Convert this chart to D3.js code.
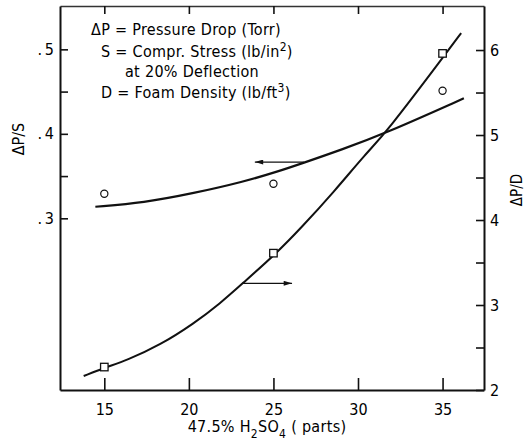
<!DOCTYPE html>
<html>
<head>
<meta charset="utf-8">
<script src="https://cdn.jsdelivr.net/npm/d3@7"></script>
<style>
  html, body { margin: 0; padding: 0; background: #fff; }
  svg { display: block; }
  .tick text { font-family: "Liberation Sans Narrow", "DejaVu Sans Condensed", "DejaVu Sans", sans-serif; font-stretch: condensed; font-size: 16px; fill: #000; }
  .lbl { font-family: "DejaVu Sans Condensed", "DejaVu Sans", sans-serif; font-stretch: condensed; fill: #000; }
</style>
</head>
<body>
<script>
// ---------- data ----------
const xTicks = [15, 20, 25, 30, 35];
const leftTicks = [0.30, 0.35, 0.40, 0.45, 0.50];
const leftTickLabels = {"0.3": ".\u20093", "0.4": ".\u20094", "0.5": ".\u20095"};
const rightTicks = [2, 2.5, 3, 3.5, 4, 4.5, 5, 5.5, 6];

// measured points
const acidParts = [15, 25, 35];
const dpS = [0.329, 0.341, 0.451];   // circles, left axis
const dpD = [2.27, 3.61, 5.96];      // squares, right axis

// fitted curves as drawn on the chart
const curveS_x = [14.47, 17.33, 20.28, 23.24, 25.22, 26.8, 28.96, 31.63, 36.26];
const curveS_y = [0.3137, 0.3185, 0.3296, 0.3433, 0.3551, 0.3658, 0.3808, 0.4006, 0.442];
const curveD_x = [13.78, 15.06, 16.34, 18.31, 20.28, 21.86, 23.15, 25.18, 26.6, 28.57, 30.5, 31.63, 35.2, 36.1];
const curveD_y = [2.165, 2.265, 2.35, 2.53, 2.78, 3.02, 3.25, 3.61, 3.9, 4.33, 4.79, 5.02, 5.96, 6.2];

// arrows (data units)
const arrowS = {x1: 26.8, x2: 23.9, y: 0.3666};
const arrowD = {x1: 23.15, x2: 26.1, y: 3.255};

// ---------- layout ----------
const W = 528, H = 445;
const L = 60, R = 484, T = 6, B = 390;

const svg = d3.select("body").append("svg").attr("width", W).attr("height", H);

const x = d3.scaleLinear().domain([12.38, 37.45]).range([L, R]);
const yL = d3.scaleLinear().domain([0.0968, 0.5513]).range([B, T]);
const yR = d3.scaleLinear().domain([2, 6.518]).range([B, T]);

const axisStyle = g => {
  g.selectAll(".domain").attr("stroke", "#111").attr("stroke-width", 2);
  g.selectAll(".tick line").attr("stroke", "#111").attr("stroke-width", 1.6);
};

// bottom
svg.append("g").attr("transform", `translate(0,${B})`)
  .call(d3.axisBottom(x).tickValues(xTicks).tickSize(-12).tickSizeOuter(0).tickPadding(14).tickFormat(d3.format("d")))
  .call(axisStyle);
// top
svg.append("g").attr("transform", `translate(0,${T})`)
  .call(d3.axisTop(x).tickValues(xTicks).tickSize(-8).tickSizeOuter(0).tickFormat(""))
  .call(axisStyle)
  .call(g => g.select(".domain").attr("stroke-width", 1.5).attr("stroke", "#333"));
// left
svg.append("g").attr("transform", `translate(${L},0)`)
  .call(d3.axisLeft(yL).tickValues(leftTicks).tickSize(-8).tickSizeOuter(0).tickPadding(6)
    .tickFormat(d => leftTickLabels[String(+d.toFixed(2))] || ""))
  .call(axisStyle);
// right
svg.append("g").attr("transform", `translate(${R},0)`)
  .call(d3.axisRight(yR).tickValues(rightTicks).tickSize(-8).tickSizeOuter(0).tickPadding(6)
    .tickFormat(d => Number.isInteger(d) ? String(d) : ""))
  .call(axisStyle);

// curves
const lineS = d3.line().x(d => x(d[0])).y(d => yL(d[1])).curve(d3.curveBasis);
const lineD = d3.line().x(d => x(d[0])).y(d => yR(d[1])).curve(d3.curveBasis);
svg.append("path").datum(curveS_x.map((v, i) => [v, curveS_y[i]]))
  .attr("d", lineS).attr("fill", "none").attr("stroke", "#111").attr("stroke-width", 2.2);
svg.append("path").datum(curveD_x.map((v, i) => [v, curveD_y[i]]))
  .attr("d", lineD).attr("fill", "none").attr("stroke", "#111").attr("stroke-width", 2);

// markers
svg.selectAll("circle.pt").data(acidParts.map((v, i) => [v, dpS[i]])).enter().append("circle")
  .attr("class", "pt").attr("cx", d => x(d[0])).attr("cy", d => yL(d[1])).attr("r", 3.6)
  .attr("fill", "#fff").attr("stroke", "#111").attr("stroke-width", 1.2);
const sq = 7.5;
svg.selectAll("rect.pt").data(acidParts.map((v, i) => [v, dpD[i]])).enter().append("rect")
  .attr("class", "pt").attr("x", d => x(d[0]) - sq / 2).attr("y", d => yR(d[1]) - sq / 2)
  .attr("width", sq).attr("height", sq)
  .attr("fill", "#fff").attr("stroke", "#111").attr("stroke-width", 1.3);

// arrows
svg.append("defs").append("marker").attr("id", "ah").attr("viewBox", "0 0 10 6")
  .attr("refX", 10).attr("refY", 3).attr("markerWidth", 9).attr("markerHeight", 5)
  .attr("markerUnits", "userSpaceOnUse").attr("orient", "auto")
  .append("path").attr("d", "M0,0 L10,3 L0,6 Z").attr("fill", "#111");
svg.append("line").attr("x1", x(arrowS.x1)).attr("x2", x(arrowS.x2))
  .attr("y1", yL(arrowS.y)).attr("y2", yL(arrowS.y))
  .attr("stroke", "#111").attr("stroke-width", 1.3).attr("marker-end", "url(#ah)");
svg.append("line").attr("x1", x(arrowD.x1)).attr("x2", x(arrowD.x2))
  .attr("y1", yR(arrowD.y)).attr("y2", yR(arrowD.y))
  .attr("stroke", "#111").attr("stroke-width", 1.3).attr("marker-end", "url(#ah)");

// legend text block
const leg = svg.append("g").attr("class", "lbl").attr("font-size", 16).attr("letter-spacing", 0.3);
leg.append("text").attr("x", 91).attr("y", 35).text("ΔP = Pressure Drop (Torr)");
const t2 = leg.append("text").attr("x", 101).attr("y", 57);
t2.append("tspan").text("S = Compr.  Stress (lb/in");
t2.append("tspan").attr("dy", -6).attr("font-size", 12).text("2");
t2.append("tspan").attr("dy", 6).text(")");
leg.append("text").attr("x", 125).attr("y", 77).text("at 20% Deflection");
const t4 = leg.append("text").attr("x", 101).attr("y", 98);
t4.append("tspan").text("D = Foam Density (lb/ft");
t4.append("tspan").attr("dy", -6).attr("font-size", 12).text("3");
t4.append("tspan").attr("dy", 6).text(")");

// axis titles
svg.append("text").attr("class", "lbl").attr("font-size", 16)
  .attr("transform", "translate(24,139) rotate(-90)").attr("text-anchor", "middle").text("ΔP/S");
svg.append("text").attr("class", "lbl").attr("font-size", 15)
  .attr("transform", "translate(522,190) rotate(-90)").attr("text-anchor", "middle").text("ΔP/D");

const xt = svg.append("text").attr("class", "lbl").attr("font-size", 16).attr("letter-spacing", 0.3)
  .attr("x", 267).attr("y", 432).attr("text-anchor", "middle");
xt.append("tspan").text("47.5% H");
xt.append("tspan").attr("dy", 6).attr("font-size", 12).text("2");
xt.append("tspan").attr("dy", -6).text("SO");
xt.append("tspan").attr("dy", 6).attr("font-size", 12).text("4");
xt.append("tspan").attr("dy", -6).text(" ( parts)");
</script>
</body>
</html>
